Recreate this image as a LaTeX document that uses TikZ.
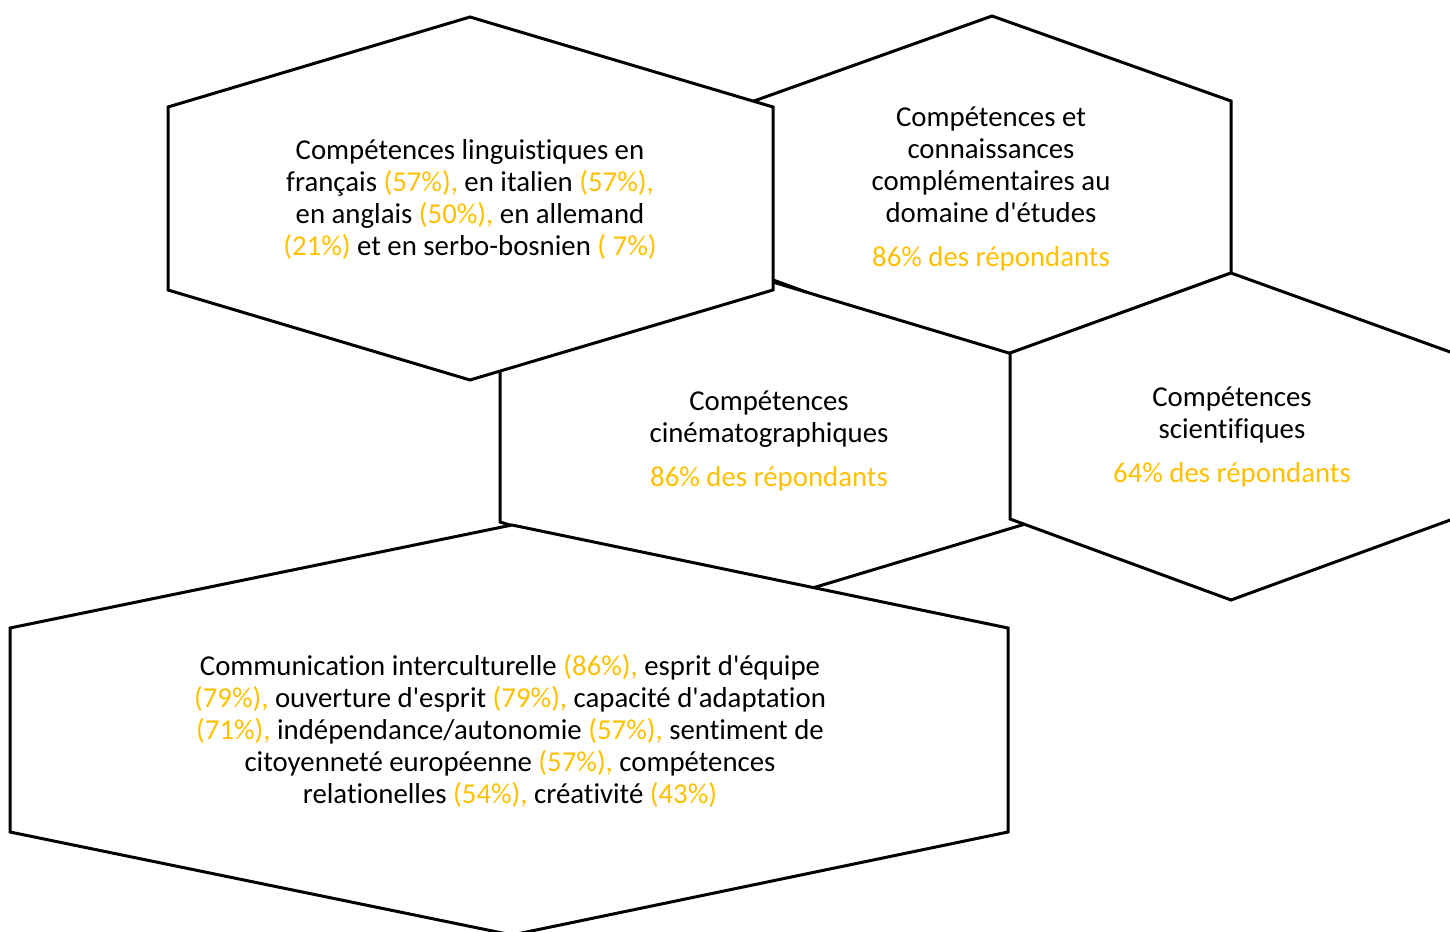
\documentclass[tikz,border=0pt]{standalone}
\usepackage{fontspec}
\setmainfont{Carlito}[Ligatures={TeXOff,NoCommon}]
\definecolor{gold}{RGB}{255,192,0}
\newcommand{\og}[1]{\textcolor{gold}{#1}}
\begin{document}
\begin{tikzpicture}[x=1pt,y=-1pt,
  hexa/.style={draw=black, fill=white, line width=3pt, line join=miter},
  txt/.style={align=center, inner sep=0pt, font=\fontsize{28.8}{32}\selectfont, text=black}]
\useasboundingbox (0,0) rectangle (1450,931);
\clip (0,0) rectangle (1450,931);
\fill[white] (0,0) rectangle (1450,931);
% hex 2 (top right)
\draw[hexa] (992,16) -- (1231,101) -- (1231,273) -- (992,360) -- (754,273) -- (754,101) -- cycle;
% hex 3 (middle)
\draw[hexa] (766,280) -- (1032,360) -- (1032,522) -- (766,602) -- (500,522) -- (500,360) -- cycle;
% hex 4 (right)
\draw[hexa] (1231,273) -- (1453,353) -- (1453,519) -- (1231,600) -- (1010,519) -- (1010,353) -- cycle;
% hex 5 (bottom)
\draw[hexa] (512,525) -- (1008,628) -- (1008,832) -- (512,935) -- (10,832) -- (10,628) -- cycle;
% hex 1 (top left)
\draw[hexa] (470,17) -- (773,107) -- (773,290) -- (470,380) -- (168,290) -- (168,107) -- cycle;

\node[txt] (t1) at (470,199) {Compétences linguistiques en\\
français \og{(57\%),} en italien \og{(57\%),}\\
en anglais \og{(50\%),} en allemand\\
\og{(21\%)} et en serbo-bosnien \og{( 7\%)}};

\node[txt] (t2) at (991,189) {Compétences et\\ connaissances\\ complémentaires au\\ domaine d'études\\[12pt]
\og{86\% des répondants}};

\node[txt] (t3) at (769,441) {Compétences\\ cinématographiques\\[12pt] \og{86\% des répondants}};

\node[txt] (t4) at (1232,437) {Compétences\\ scientifiques\\[12pt] \og{64\% des répondants}};

\node[txt] (t5) at (510,731) {Communication interculturelle \og{(86\%),} esprit d'équipe\\
\og{(79\%),} ouverture d'esprit \og{(79\%),} capacité d'adaptation\\
\og{(71\%),} indépendance/autonomie \og{(57\%),} sentiment de\\
citoyenneté européenne \og{(57\%),} compétences\\
relationelles \og{(54\%),} créativité \og{(43\%)}};
\end{tikzpicture}
\end{document}
